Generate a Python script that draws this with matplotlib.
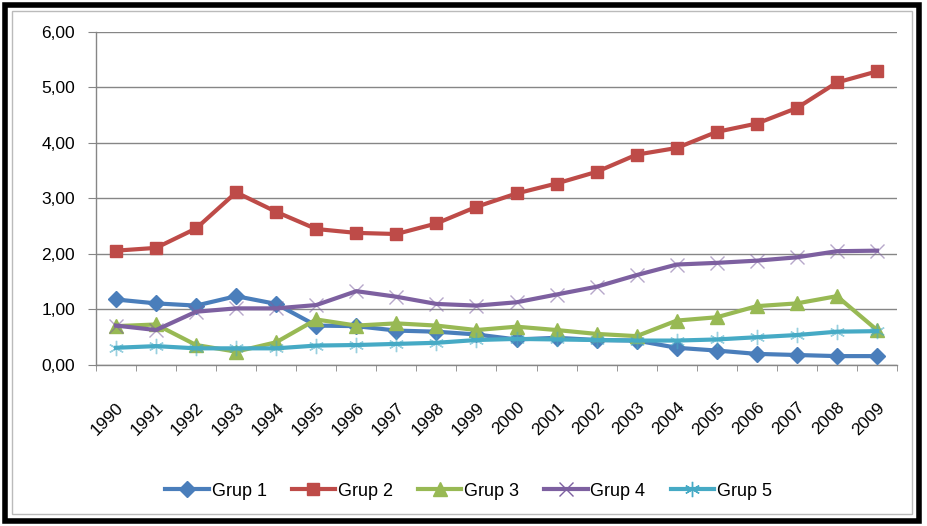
import matplotlib.pyplot as plt
from matplotlib.patches import Rectangle
from matplotlib.ticker import FixedLocator

years = [str(y) for y in range(1990, 2010)]

grup1 = [1.18, 1.11, 1.07, 1.24, 1.10, 0.71, 0.70, 0.62, 0.60, 0.55,
         0.46, 0.49, 0.45, 0.44, 0.31, 0.26, 0.20, 0.18, 0.16, 0.16]
grup2 = [2.06, 2.11, 2.46, 3.11, 2.76, 2.45, 2.38, 2.36, 2.55, 2.85,
         3.09, 3.27, 3.48, 3.79, 3.91, 4.20, 4.35, 4.63, 5.09, 5.29]
grup3 = [0.70, 0.73, 0.36, 0.24, 0.41, 0.82, 0.71, 0.75, 0.71, 0.63,
         0.69, 0.63, 0.56, 0.52, 0.80, 0.86, 1.06, 1.11, 1.24, 0.63]
grup4 = [0.71, 0.63, 0.96, 1.02, 1.02, 1.08, 1.33, 1.23, 1.10, 1.07,
         1.13, 1.27, 1.41, 1.62, 1.81, 1.84, 1.88, 1.94, 2.05, 2.06]
grup5 = [0.31, 0.34, 0.30, 0.30, 0.30, 0.35, 0.36, 0.38, 0.40, 0.45,
         0.47, 0.46, 0.45, 0.44, 0.44, 0.46, 0.50, 0.54, 0.60, 0.61]

series = [('Grup 1', grup1), ('Grup 2', grup2), ('Grup 3', grup3),
          ('Grup 4', grup4), ('Grup 5', grup5)]
colors = ['#4A7EBB', '#BE4B48', '#98B954', '#7D60A0', '#46AAC5']
markers = ['D', 's', '^', 'x', (6, 2, 0)]
msizes = [8, 9, 9.5, 10, 11]
thin = ('x', (6, 2, 0))

plt.rcParams['font.family'] = ['Liberation Sans', 'DejaVu Sans']

fig = plt.figure(figsize=(9.28, 5.26), dpi=100)
ax = fig.add_axes([0.1034, 0.3061, 0.8632, 0.6331])

x = list(range(len(years)))
handles = []
for (name, vals), c, m, ms in zip(series, colors, markers, msizes):
    if m in thin:
        # thin, light marker over the thick line
        ax.plot(x, vals, color=c, lw=3, zorder=3)
        ax.plot(x, vals, ls='none', marker=m, ms=ms, mec=c, mew=1,
                alpha=0.55, zorder=4)
    else:
        ax.plot(x, vals, color=c, lw=3, marker=m, ms=ms, zorder=3)
    h, = ax.plot([], [], color=c, lw=3, marker=m, ms=ms, mew=1)
    handles.append(h)

ax.set_xlim(-0.5, len(years) - 0.5)
ax.set_ylim(0, 6)
ax.set_yticks(range(7))
ax.set_yticklabels([('%.2f' % v).replace('.', ',') for v in range(7)])
ax.set_xticks(x)
ax.set_xticklabels(years, rotation=45, ha='right', rotation_mode='anchor')
ax.xaxis.set_minor_locator(FixedLocator([i - 0.5 for i in range(len(years) + 1)]))
ax.tick_params(axis='x', which='major', length=0, pad=25, labelsize=12.5)
ax.tick_params(axis='x', which='minor', length=4.5, color='#868686', direction='out')
ax.tick_params(axis='y', length=6, color='#868686', pad=9, labelsize=12.5)

ax.grid(axis='y', color='#868686', lw=1)
ax.set_axisbelow(True)
for s in ['top', 'right']:
    ax.spines[s].set_visible(False)
for s in ['left', 'bottom']:
    ax.spines[s].set_color('#868686')
    ax.spines[s].set_linewidth(1)

fig.legend(handles=handles, labels=[s[0] for s in series], loc='center',
           bbox_to_anchor=(0.505, 0.066), ncol=5, frameon=False,
           fontsize=13, handlelength=2.4, handletextpad=0.15, columnspacing=1.4)

fig.patches.append(Rectangle((0.005, 0.01), 0.985, 0.98, transform=fig.transFigure,
                             fill=False, ec='black', lw=4))
fig.patches.append(Rectangle((0.013, 0.022), 0.97, 0.958, transform=fig.transFigure,
                             fill=False, ec='#BBBBBB', lw=1))

plt.savefig('out.png', dpi=100)
